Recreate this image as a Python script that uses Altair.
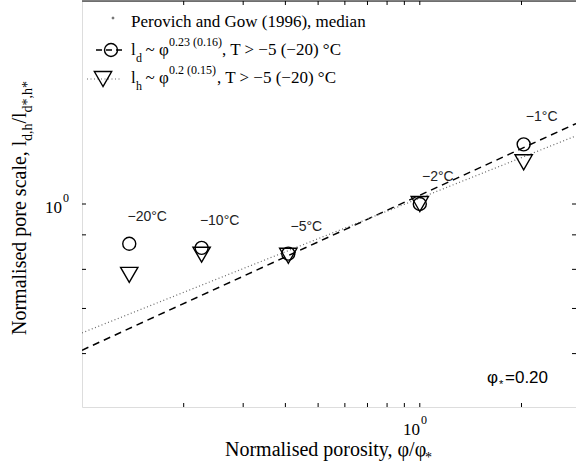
import altair as alt
import pandas as pd

# ---- data ----
phi_ratio = [0.138, 0.226, 0.408, 1.0, 2.03]
l_d = [0.873, 0.861, 0.844, 1.0, 1.226]
l_h = [0.785, 0.841, 0.838, 1.0, 1.153]
temp_labels = ["−20°C", "−10°C", "−5°C", "−2°C", "−1°C"]
fit_x = [0.1, 2.9]
fit_d = [0.607, 1.316]
fit_h = [0.644, 1.262]
x_tick_vals = [0.2, 0.3, 0.4, 0.5, 0.6, 0.7, 0.8, 0.9, 1.0, 2.0]
y_tick_vals = [0.6, 0.7, 0.8, 0.9, 1.0]

W, H = 494, 406
SERIF = "Liberation Serif"
SANS = "Liberation Sans"

pts = pd.DataFrame({"x": phi_ratio, "ld": l_d, "lh": l_h, "lab": temp_labels})
fits = pd.DataFrame({"x": fit_x, "d": fit_d, "h": fit_h})
xt = pd.DataFrame({"x": x_tick_vals})
yt = pd.DataFrame({"y": y_tick_vals})

xs = alt.Scale(type="log", domain=[0.1, 2.9], nice=False)
ys = alt.Scale(type="log", domain=[0.5, 2.0], nice=False)
xax = alt.Axis(labels=False, ticks=False, grid=False, title=None, domainColor="black", domainWidth=1)
yax = alt.Axis(labels=False, ticks=False, grid=False, title=None, domainColor="black", domainWidth=1)

fit_d_line = alt.Chart(fits).mark_line(color="black", strokeWidth=1.5, strokeDash=[7, 5], clip=True).encode(
    x=alt.X("x:Q", scale=xs, axis=xax), y=alt.Y("d:Q", scale=ys, axis=yax))
fit_h_line = alt.Chart(fits).mark_line(color="#666666", strokeWidth=1.2, strokeDash=[1, 2.5], clip=True).encode(
    x=alt.X("x:Q", scale=xs, axis=None), y=alt.Y("h:Q", scale=ys, axis=None))

circles = alt.Chart(pts).mark_point(shape="circle", filled=False, size=169, stroke="black",
                                    strokeWidth=1.4, opacity=1).encode(
    x=alt.X("x:Q", scale=xs, axis=None), y=alt.Y("ld:Q", scale=ys, axis=None))
tris = alt.Chart(pts).mark_point(shape="triangle-down", filled=False, size=300, stroke="black",
                                 strokeWidth=1.4, opacity=1).encode(
    x=alt.X("x:Q", scale=xs, axis=None), y=alt.Y("lh:Q", scale=ys, axis=None))
tlabels = alt.Chart(pts).mark_text(font=SANS, fontSize=14, color="#222222", dx=18, dy=-27,
                                   align="center", baseline="middle").encode(
    x=alt.X("x:Q", scale=xs, axis=None), y=alt.Y("ld:Q", scale=ys, axis=None), text="lab:N")

tick_style = dict(color="black", strokeWidth=1)
xt_bot = alt.Chart(xt).mark_rule(**tick_style).encode(
    x=alt.X("x:Q", scale=xs, axis=None), y=alt.value(H), y2=alt.value(H - 4))
xt_top = alt.Chart(xt).mark_rule(**tick_style).encode(
    x=alt.X("x:Q", scale=xs, axis=None), y=alt.value(0), y2=alt.value(4))
yt_left = alt.Chart(yt).mark_rule(**tick_style).encode(
    y=alt.Y("y:Q", scale=ys, axis=None), x=alt.value(0), x2=alt.value(4))
yt_right = alt.Chart(yt).mark_rule(**tick_style).encode(
    y=alt.Y("y:Q", scale=ys, axis=None), x=alt.value(W), x2=alt.value(W - 4))
top_frame = alt.Chart(alt.Data(values=[{}])).mark_rule(**tick_style).encode(
    x=alt.value(0), x2=alt.value(W), y=alt.value(0))


def txt(s, x, y, size, font=SERIF, angle=0, align="left", color="black"):
    return alt.Chart(alt.Data(values=[{}])).mark_text(
        text=s, font=font, fontSize=size, angle=angle, align=align, baseline="alphabetic",
        color=color).encode(x=alt.value(x), y=alt.value(y))


def seg(x1, x2, y, dash, color="black", width=1.5):
    return alt.Chart(alt.Data(values=[{}])).mark_rule(color=color, strokeWidth=width, strokeDash=dash).encode(
        x=alt.value(x1), x2=alt.value(x2), y=alt.value(y))


def sym(shape, x, y, size, filled=False, color="black"):
    return alt.Chart(alt.Data(values=[{}])).mark_point(
        shape=shape, filled=filled, size=size, stroke=color, fill=color if filled else None,
        strokeWidth=1.4, opacity=1).encode(x=alt.value(x), y=alt.value(y))


ox, oy = 82, 1  # page offset of plot area
L = lambda px: px - ox
T = lambda py: py - oy

legend = [
    sym("circle", L(113), T(18), 2, filled=True, color="#777777"),
    txt("Perovich and Gow (1996), median", L(131), T(27), 17),
    seg(L(96), L(124), T(50), [6, 4]),
    sym("circle", L(111), T(50), 169),
    txt("l", L(131), T(55), 17),
    txt("d", L(136), T(62), 12),
    txt("~ φ", L(145.5), T(55), 17),
    txt("0.23 (0.16)", L(169), T(46), 12),
    txt(", T > −5 (−20) °C", L(222), T(55), 17),
    seg(L(87), L(120), T(79), [1, 2.5], color="#666666", width=1.2),
    sym("triangle-down", L(103), T(79), 300),
    txt("l", L(131), T(83), 17),
    txt("h", L(136), T(90), 12),
    txt("~ φ", L(145.5), T(83), 17),
    txt("0.2 (0.15)", L(169), T(74), 12),
    txt(", T > −5 (−20) °C", L(217), T(83), 17),
]

axis_text = [
    # x tick label 10^0
    txt("10", L(420), T(435), 17, align="right"),
    txt("0", L(421), T(424), 12),
    # y tick label 10^0
    txt("10", L(62), T(213), 17, align="right"),
    txt("0", L(63), T(202), 12),
    # x title
    txt("Normalised porosity, φ/φ", L(225), T(456), 20),
    txt("*", L(425), T(462), 14),
    # y title (rotated)
    txt("Normalised pore scale, l", L(26), T(335), 20, angle=270),
    txt("d,h", L(32), T(141), 14, angle=270),
    txt("/l", L(26), T(123.5), 20, angle=270),
    txt("d*,h*", L(32), T(112.5), 14, angle=270),
    # phi* annotation
    txt("φ", L(487), T(383), 17, font=SANS),
    txt("*", L(499), T(388), 11, font=SANS),
    txt("=0.20", L(505), T(383), 17, font=SANS),
]

chart = alt.layer(
    fit_d_line, fit_h_line, circles, tris, tlabels,
    xt_bot, xt_top, yt_left, yt_right, top_frame,
    *legend, *axis_text,
).properties(
    width=W, height=H,
    autosize=alt.AutoSizeParams(type="none"),
    padding={"left": ox, "top": oy, "right": 0, "bottom": 466 - oy - H},
).configure_view(stroke=None).configure(background="white")

chart.save("out.html", embed_options={"renderer": "svg", "actions": False})
